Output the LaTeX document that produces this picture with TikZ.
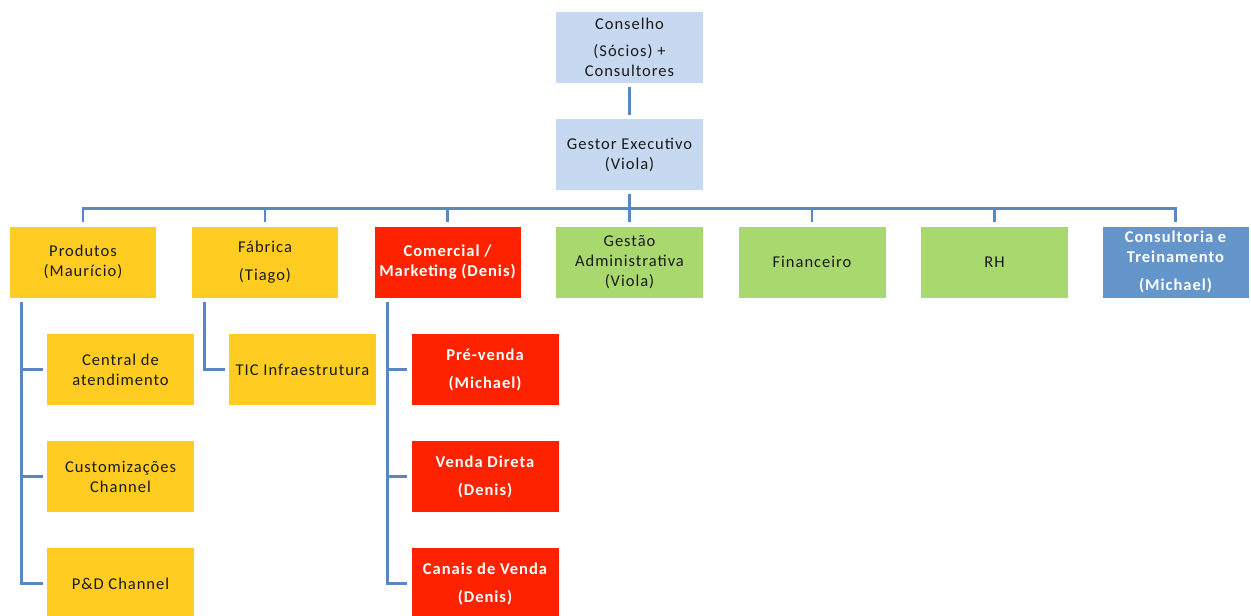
\documentclass[tikz,border=0pt]{standalone}
\usepackage{fontspec}
\setmainfont[LetterSpace=6]{Carlito}
\definecolor{lblue}{HTML}{C6D9F0}
\definecolor{ylw}{HTML}{FFCC22}
\definecolor{rd}{HTML}{FF2200}
\definecolor{grn}{HTML}{A9D86E}
\definecolor{bbox}{HTML}{6495CB}
\definecolor{conn}{HTML}{5A87C0}
\definecolor{txt}{HTML}{1A1A1A}
\tikzset{
  box/.style={rectangle, minimum width=147pt, minimum height=71pt, inner sep=0pt, align=center,
    font=\fontsize{16.5}{20}\selectfont, text=txt},
  bluebox/.style={box, fill=lblue},
  ylwbox/.style={box, fill=ylw},
  redbox/.style={box, fill=rd, text=white, font=\fontsize{16.5}{20}\selectfont\bfseries},
  grnbox/.style={box, fill=grn},
  consbox/.style={box, fill=bbox, text=white, font=\fontsize{16.5}{20}\selectfont\bfseries},
  link/.style={draw=conn, line width=2.8pt, shorten <=4pt, shorten >=4pt},
}
\begin{document}
\begin{tikzpicture}[x=1pt, y=-1pt]
\useasboundingbox (0,0) rectangle (1251,616);
\clip (0,0) rectangle (1251,616);
% top
\node[bluebox] (conselho) at (629.5,47.5) {Conselho\\[7pt](Sócios) +\\Consultores};
\node[bluebox] (gestor) at (629.5,154.5) {Gestor Executivo\\(Viola)};
% row 1
\node[ylwbox, minimum width=146pt] (produtos) at (83,262) {Produtos\\(Maurício)};
\node[ylwbox, minimum width=146pt] (fabrica) at (265,262) {Fábrica\\[8pt](Tiago)};
\node[redbox, minimum width=146pt] (comercial) at (447.5,262) {Comercial /\\Marketing (Denis)};
\node[grnbox] (gestao) at (629.5,262) {Gestão\\Administrativa\\(Viola)};
\node[grnbox] (financeiro) at (812,262) {Financeiro};
\node[grnbox] (rh) at (994.5,262) {RH};
\node[consbox, minimum width=146pt] (consultoria) at (1175.5,262) {Consultoria e\\Treinamento\\[8pt](Michael)};
% children
\node[ylwbox] (central) at (120.5,369.5) {Central de\\atendimento};
\node[ylwbox] (custom) at (120.5,476.5) {Customizações\\Channel};
\node[ylwbox] (pd) at (120.5,583.5) {P\&D Channel};
\node[ylwbox] (tic) at (302.5,369.5) {TIC Infraestrutura};
\node[redbox] (prevenda) at (485,369.5) {Pré-venda\\[8pt](Michael)};
\node[redbox] (direta) at (485,476.5) {Venda Direta\\[8pt](Denis)};
\node[redbox] (canais) at (485,583.5) {Canais de Venda\\[8pt](Denis)};
% connectors
\draw[link] (conselho) -- (gestor);
\foreach \t in {produtos,fabrica,comercial,gestao,financeiro,rh,consultoria}
  \draw[link] (gestor.south) -- ++(0,18) -| (\t.north);
\foreach \c in {central,custom,pd}
  \draw[link] ([xshift=12pt]produtos.south west) |- (\c.west);
\draw[link] ([xshift=13pt]fabrica.south west) |- (tic.west);
\foreach \c in {prevenda,direta,canais}
  \draw[link] ([xshift=13pt]comercial.south west) |- (\c.west);
\end{tikzpicture}
\end{document}
